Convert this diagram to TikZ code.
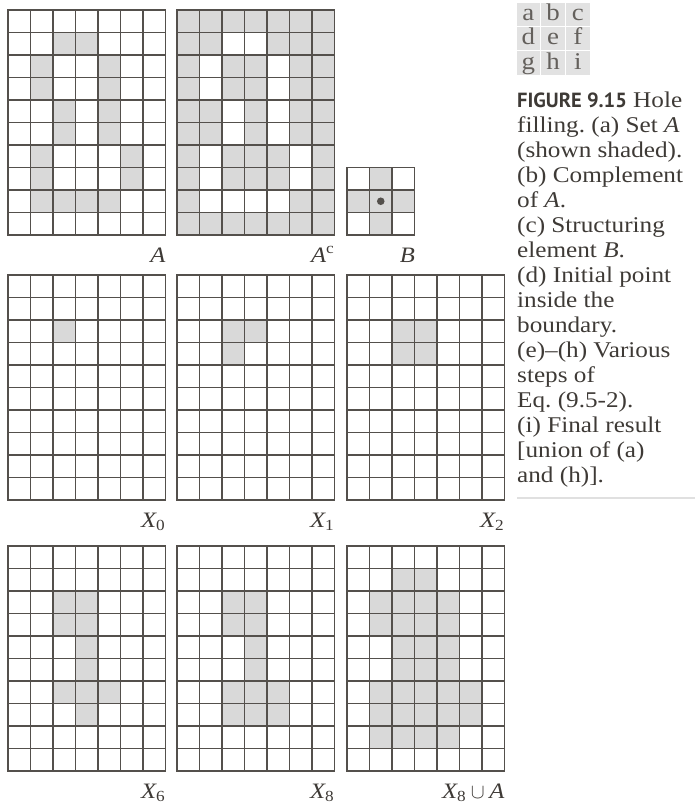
\documentclass[tikz,border=0pt]{standalone}
\usepackage{amsmath}
\usepackage{fontspec}
\setmainfont{Liberation Serif}[FakeStretch=1.12]
\newfontfamily\figfont{PT Sans}
\usepackage{xcolor}
\usepackage{tikz}
\usetikzlibrary{positioning}

\definecolor{gridgray}{RGB}{84,80,76}
\definecolor{cellgray}{RGB}{217,217,217}
\definecolor{textgray}{RGB}{62,58,54}
\definecolor{boxgray}{RGB}{226,226,226}
\definecolor{lettergray}{RGB}{100,96,92}
\definecolor{rulegray}{RGB}{224,224,224}

\newcommand{\cellsA}{2/1,3/1,1/2,4/2,1/3,4/3,2/4,4/4,2/5,4/5,1/6,5/6,1/7,5/7,1/8,2/8,3/8,4/8}
\newcommand{\cellsXvi}{2/2,3/2,2/3,3/3,3/4,3/5,2/6,3/6,4/6,3/7}
\newcommand{\cellsXviii}{2/2,3/2,2/3,3/3,3/4,3/5,2/6,3/6,4/6,2/7,3/7,4/7}
\newcommand{\panelgrid}[2]{%
  \foreach \i in {0,...,#1} \draw[gridline] (\i,0)--(\i,#2);
  \foreach \j in {0,...,#2} \draw[gridline] (0,\j)--(#1,\j);}

\begin{document}
\begin{tikzpicture}[x=1pt,y=-1pt,
  gridline/.style={draw=gridgray,line width=1.2pt,line cap=rect},
  cell/.style={x=22.5pt,y=-22.5pt},
  lbl/.style={anchor=base east,inner sep=0pt,text=textgray,font=\fontsize{22}{25}\selectfont}]
  \useasboundingbox (0,0) rectangle (695,806);

  \begin{scope}[shift={(8pt,-10pt)},cell]
    \foreach \c/\r in \cellsA \fill[cellgray] (\c,\r) rectangle ++(1,1);
    \panelgrid{7}{10}
  \end{scope}
  \begin{scope}[shift={(177pt,-10pt)},cell]
    \fill[cellgray] (0,0) rectangle (7,10);
    \foreach \c/\r in \cellsA \fill[white] (\c,\r) rectangle ++(1,1);
    \panelgrid{7}{10}
  \end{scope}
  \begin{scope}[shift={(347pt,-167.5pt)},cell]
    \foreach \c/\r in {1/0,0/1,1/1,2/1,1/2} \fill[cellgray] (\c,\r) rectangle ++(1,1);
    \panelgrid{3}{3}
    \fill[gridgray] (1.5,1.5) circle (3.8pt);
  \end{scope}

  \begin{scope}[shift={(8pt,-275pt)},cell]
    \fill[cellgray] (2,2) rectangle ++(1,1);
    \panelgrid{7}{10}
  \end{scope}
  \begin{scope}[shift={(177pt,-275pt)},cell]
    \foreach \c/\r in {2/2,3/2,2/3} \fill[cellgray] (\c,\r) rectangle ++(1,1);
    \panelgrid{7}{10}
  \end{scope}
  \begin{scope}[shift={(347pt,-275pt)},cell]
    \fill[cellgray] (2,2) rectangle ++(2,2);
    \panelgrid{7}{10}
  \end{scope}

  \begin{scope}[shift={(8pt,-546pt)},cell]
    \foreach \c/\r in \cellsXvi \fill[cellgray] (\c,\r) rectangle ++(1,1);
    \panelgrid{7}{10}
  \end{scope}
  \begin{scope}[shift={(177pt,-546pt)},cell]
    \foreach \c/\r in \cellsXviii \fill[cellgray] (\c,\r) rectangle ++(1,1);
    \panelgrid{7}{10}
  \end{scope}
  \begin{scope}[shift={(347pt,-546pt)},cell]
    \foreach \c/\r in \cellsA \fill[cellgray] (\c,\r) rectangle ++(1,1);
    \foreach \c/\r in \cellsXviii \fill[cellgray] (\c,\r) rectangle ++(1,1);
    \panelgrid{7}{10}
  \end{scope}

  \node[lbl] (labA)  at (165.5,262) {\itshape A};
  \node[lbl] (labAc) at (334.5,262) {$\textit{A}^{\text{c}}$};
  \node[lbl] (labB)  at (415,262)   {\itshape B};
  \node[lbl] (labX0) at (165.5,527) {$\textit{X}_{\text{0}}$};
  \node[lbl] (labX1) at (334.5,527) {$\textit{X}_{\text{1}}$};
  \node[lbl] (labX2) at (504.5,527) {$\textit{X}_{\text{2}}$};
  \node[lbl] (labX6) at (165.5,798) {$\textit{X}_{\text{6}}$};
  \node[lbl] (labX8) at (334.5,798) {$\textit{X}_{\text{8}}$};
  \node[lbl] (labU)  at (504.5,798) {$\textit{X}_{\text{8}}\cup\textit{A}$};

  \foreach \ltr [count=\k from 0] in {a,b,c,d,e,f,g,h,i} {
    \pgfmathtruncatemacro{\col}{mod(\k,3)}
    \pgfmathtruncatemacro{\row}{\k/3}
    \fill[boxgray,draw=white,line width=1.2pt] (516+24.7*\col,2+24.4*\row) rectangle ++(24.7,24.4);
    \node[anchor=base,inner sep=0pt,text=lettergray,font=\fontsize{24}{25}\selectfont]
      (let-\ltr) at (528.4+24.7*\col,20.5+24.4*\row) {\ltr};
  }

  \node[anchor=north west,inner sep=0pt,align=left,text=textgray,
        font=\fontsize{22.5}{25}\selectfont\frenchspacing] (cap) at (517,92)
    {{\figfont\bfseries\fontsize{20.5}{25}\selectfont FIGURE 9.15}\ Hole\\
     filling. (a) Set \textit{A}\\
     (shown shaded).\\
     (b) Complement\\
     of \textit{A}.\\
     (c) Structuring\\
     element \textit{B}.\\
     (d) Initial point\\
     inside the\\
     boundary.\\
     (e)--(h) Various\\
     steps of\\
     Eq. (9.5-2).\\
     (i) Final result\\
     {[}union of (a)\\
     and (h)].};
  \draw[rulegray,line width=1.3pt] (517,498) -- (695,498);
\end{tikzpicture}
\end{document}
